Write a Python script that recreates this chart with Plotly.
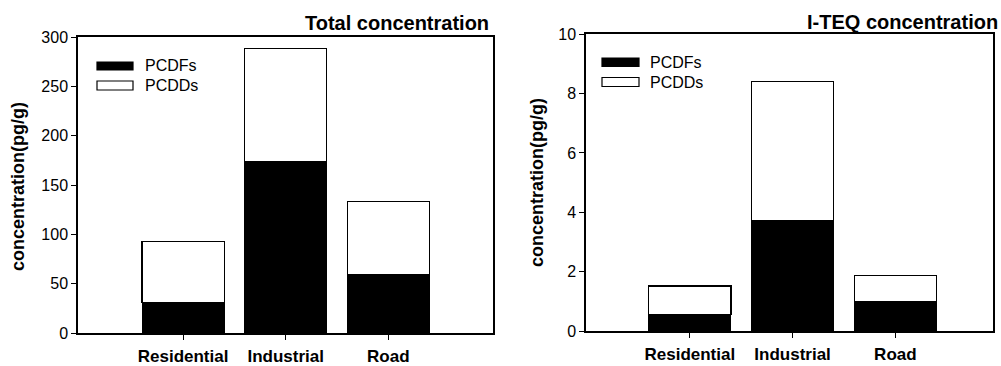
import plotly.graph_objects as go

categories = ["Residential", "Industrial", "Road"]
total_pcdfs = [31, 174, 59]
total_pcdds = [62, 114, 74]
teq_pcdfs = [0.56, 3.73, 0.99]
teq_pcdds = [0.96, 4.68, 0.87]
series_names = ["PCDFs", "PCDDs"]
titles = ["Total concentration", "I-TEQ concentration"]
y_title = "concentration(pg/g)"
y_ticks_total = [0, 50, 100, 150, 200, 250, 300]
y_ticks_teq = [0, 2, 4, 6, 8, 10]

FONT = "Liberation Sans, Arial, sans-serif"
W, H = 1001, 366

def px(x):
    return x / W

def py(y):
    return 1 - y / H

fig = go.Figure()

bar_style = dict(width=0.8, showlegend=False)
fig.add_trace(go.Bar(x=categories, y=total_pcdfs, name=series_names[0], marker=dict(color="black", line=dict(color="black", width=1)), xaxis="x", yaxis="y", **bar_style))
fig.add_trace(go.Bar(x=categories, y=total_pcdds, name=series_names[1], marker=dict(color="white", line=dict(color="black", width=1.2)), xaxis="x", yaxis="y", **bar_style))
fig.add_trace(go.Bar(x=categories, y=teq_pcdfs, name=series_names[0], marker=dict(color="black", line=dict(color="black", width=1)), xaxis="x2", yaxis="y2", **bar_style))
fig.add_trace(go.Bar(x=categories, y=teq_pcdds, name=series_names[1], marker=dict(color="white", line=dict(color="black", width=1.2)), xaxis="x2", yaxis="y2", **bar_style))

xcommon = dict(type="category", showline=True, linecolor="black", linewidth=1.5, mirror=True,
               ticks="outside", ticklen=5, tickcolor="black", tickwidth=1.2,
               tickfont=dict(family=FONT, size=17, color="black", weight="bold"),
               ticklabelstandoff=2, showgrid=False, zeroline=False, automargin=False)
ycommon = dict(showline=True, linecolor="black", linewidth=1.5, mirror=True,
               ticks="outside", ticklen=5, tickcolor="black", tickwidth=1.2,
               tickfont=dict(family=FONT, size=16, color="black"),
               showgrid=False, zeroline=False, automargin=False)

fig.update_layout(
    width=W, height=H,
    margin=dict(l=0, r=0, t=0, b=0, autoexpand=False),
    paper_bgcolor="white", plot_bgcolor="white",
    barmode="stack",
    xaxis=dict(domain=[px(78), px(493)], range=[-1.024, 3.02], anchor="y", **xcommon),
    yaxis=dict(domain=[py(333), py(37)], range=[0, 300], tickvals=y_ticks_total, anchor="x", **ycommon),
    xaxis2=dict(domain=[px(586), px(993)], range=[-1.01, 2.95], anchor="y2", **xcommon),
    yaxis2=dict(domain=[py(331), py(34.3)], range=[0, 10], tickvals=y_ticks_teq, anchor="x2", **ycommon),
)

annotations = []
shapes = []
# titles
annotations.append(dict(text=titles[0], x=px(491), y=py(23), xref="paper", yref="paper", xanchor="right", yanchor="middle",
                        showarrow=False, font=dict(family=FONT, size=20, color="black", weight="bold")))
annotations.append(dict(text=titles[1], x=px(1000), y=py(22), xref="paper", yref="paper", xanchor="right", yanchor="middle",
                        showarrow=False, font=dict(family=FONT, size=20, color="black", weight="bold")))
# y titles
for xc, yc in [(18, 187), (537, 183)]:
    annotations.append(dict(text=y_title, x=px(xc), y=py(yc), xref="paper", yref="paper", xanchor="center", yanchor="middle",
                            textangle=-90, showarrow=False, font=dict(family=FONT, size=18, color="black", weight="bold")))

# legends
legends = [
    dict(x0=97, x1=133, rows=[(62, 70), (81, 90)], tx=143),
    dict(x0=602, x1=639, rows=[(58, 66.5), (77.5, 86.5)], tx=648),
]
fills = ["black", "white"]
for lg in legends:
    for i, (y0, y1) in enumerate(lg["rows"]):
        shapes.append(dict(type="rect", xref="paper", yref="paper", x0=px(lg["x0"]), x1=px(lg["x1"]),
                           y0=py(y1), y1=py(y0), fillcolor=fills[i], line=dict(color="black", width=1.2)))
        annotations.append(dict(text=series_names[i], x=px(lg["tx"]), y=py((y0 + y1) / 2), xref="paper", yref="paper",
                                xanchor="left", yanchor="middle", showarrow=False,
                                font=dict(family=FONT, size=16, color="black")))

fig.update_layout(annotations=annotations, shapes=shapes)
fig.write_html("out.html", config={"displayModeBar": False},
               post_script="document.body.style.margin='0';document.body.style.overflow='hidden';")
